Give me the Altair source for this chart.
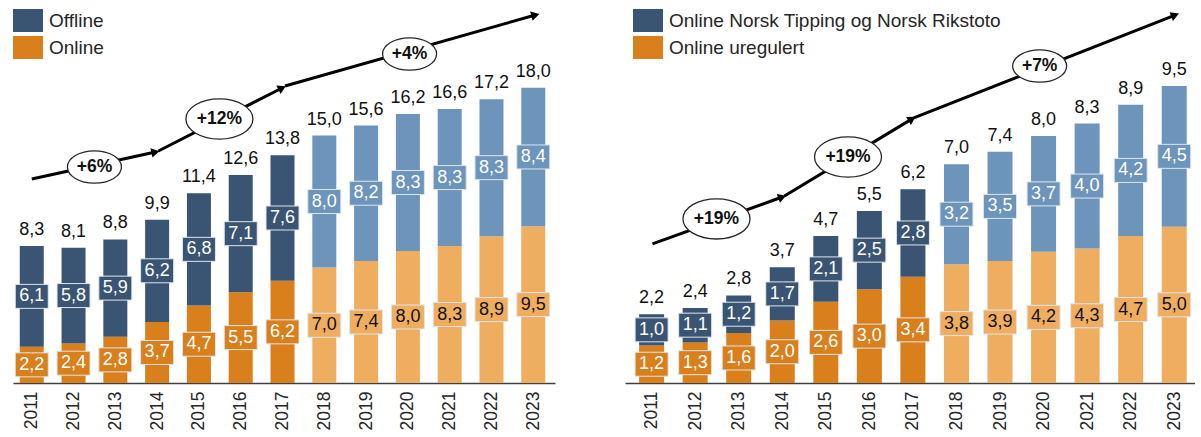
import math
import altair as alt
import pandas as pd

FONT = "Liberation Sans"
DARK_BLUE = "#3A5574"
ORANGE = "#D97F1B"
LIGHT_BLUE = "#6D94BB"
LIGHT_ORANGE = "#EFAD60"

years = list(range(2011, 2024))
forecast_from = 2018

# ---- left panel data ----
left_series = ["Offline", "Online"]
left_offline = [6.1, 5.8, 5.9, 6.2, 6.8, 7.1, 7.6, 8.0, 8.2, 8.3, 8.3, 8.3, 8.4]
left_online = [2.2, 2.4, 2.8, 3.7, 4.7, 5.5, 6.2, 7.0, 7.4, 8.0, 8.3, 8.9, 9.5]
left_totals = [8.3, 8.1, 8.8, 9.9, 11.4, 12.6, 13.8, 15.0, 15.6, 16.2, 16.6, 17.2, 18.0]
left_growth = ["+6%", "+12%", "+4%"]
left_arrow_from_year = [2011.0, 2014.03, 2017.06]
left_arrow_from_val = [12.36, 14.06, 18.0]
left_arrow_to_year = [2013.96, 2016.99, 2023.05]
left_arrow_to_val = [14.0, 17.88, 22.3]
left_growth_year = [2012.5, 2015.49, 2020.04]
left_growth_val = [13.09, 16.0, 19.94]

# ---- right panel data ----
right_series = ["Online Norsk Tipping og Norsk Rikstoto", "Online uregulert"]
right_nt = [1.0, 1.1, 1.2, 1.7, 2.1, 2.5, 2.8, 3.2, 3.5, 3.7, 4.0, 4.2, 4.5]
right_ureg = [1.2, 1.3, 1.6, 2.0, 2.6, 3.0, 3.4, 3.8, 3.9, 4.2, 4.3, 4.7, 5.0]
right_totals = [2.2, 2.4, 2.8, 3.7, 4.7, 5.5, 6.2, 7.0, 7.4, 8.0, 8.3, 8.9, 9.5]
right_growth = ["+19%", "+19%", "+7%"]
right_arrow_from_year = [2011.02, 2014.05, 2017.02]
right_arrow_from_val = [4.45, 5.98, 8.48]
right_arrow_to_year = [2014.0, 2016.98, 2023.02]
right_arrow_to_val = [5.95, 8.45, 11.77]
right_growth_year = [2012.49, 2015.51, 2019.91]
right_growth_val = [5.25, 7.23, 10.14]

BOX = "M-1,-0.727H1V0.727H-1Z"
ELLIPSE = "M-1,0A1,0.6,0,1,1,1,0A1,0.6,0,1,1,-1,0Z"
SWATCH = "M-1,-0.767H1V0.767H-1Z"
HEIGHT = 383


def fmt(v):
    return f"{v:.1f}".replace(".", ",")


def panel(series, top_vals, bottom_vals, totals, growth, afy, afv, aty, atv, gy, gv,
          width, xdom, ymax, bar_size, legend_x):
    rows = []
    for i, yr in enumerate(years):
        fc = yr >= forecast_from
        for order, (name, v) in enumerate([(series[1], bottom_vals[i]), (series[0], top_vals[i])]):
            rows.append(dict(year=yr, series=name,
                             key=name + (" (prognose)" if fc else ""),
                             value=v, order=order, label=fmt(v),
                             dark=bool(fc and order == 0)))
    df = pd.DataFrame(rows)
    tot = pd.DataFrame(dict(year=years, label=[fmt(t) for t in totals],
                            top=[a + b for a, b in zip(top_vals, bottom_vals)]))

    ppy = width / (xdom[1] - xdom[0])
    ppv = HEIGHT / ymax
    arr_rows, head_rows = [], []
    for k in range(len(afy)):
        arr_rows.append(dict(seg=k, year=afy[k], val=afv[k]))
        arr_rows.append(dict(seg=k, year=aty[k], val=atv[k]))
        dx = (aty[k] - afy[k]) * ppy
        dy = (atv[k] - afv[k]) * ppv
        ang = (-math.degrees(math.atan2(dy, dx))) % 360
        head_rows.append(dict(year=aty[k], val=atv[k], angle=ang))
    arr = pd.DataFrame(arr_rows)
    heads = pd.DataFrame(head_rows)
    gdf = pd.DataFrame(dict(year=gy, val=gv, label=growth))

    xenc = alt.X("year:Q", title=None,
                 scale=alt.Scale(domain=xdom, nice=False, zero=False),
                 axis=alt.Axis(values=years, format="d", labelAngle=-90, ticks=False,
                               grid=False, labelFont=FONT, labelFontSize=17.5,
                               labelColor="#262626", labelPadding=8, labelFlush=False,
                               labelOverlap=False, domainColor="#404040", domainWidth=1.6))
    yscale = alt.Scale(domain=[0, ymax], nice=False, zero=True)

    def Y(field):
        return alt.Y(field, scale=yscale, axis=None, title=None)

    cdomain = [series[0], series[1], series[0] + " (prognose)", series[1] + " (prognose)"]
    color = alt.Color("key:N",
                      scale=alt.Scale(domain=cdomain,
                                      range=[DARK_BLUE, ORANGE, LIGHT_BLUE, LIGHT_ORANGE]),
                      legend=alt.Legend(orient="none", legendX=legend_x, legendY=5.5,
                                        values=series, title=None, symbolType=SWATCH,
                                        symbolSize=900, symbolStrokeWidth=0,
                                        symbolOpacity=1, labelFont=FONT,
                                        labelFontSize=19, labelColor="#262626",
                                        labelOffset=6, rowPadding=0, padding=0,
                                        labelLimit=600))

    base = alt.Chart(df).transform_stack(
        stack="value", as_=["y0", "y1"], groupby=["year"],
        sort=[alt.SortField("order", "ascending")]
    ).transform_calculate(mid="(datum.y0 + datum.y1) / 2")

    bars = base.mark_bar(size=bar_size).encode(x=xenc, y=Y("y0:Q"), y2="y1:Q", color=color)
    boxes = base.mark_point(shape=BOX, size=1089, filled=True, opacity=1,
                            stroke="#dfe5ec", strokeWidth=1).encode(
        x=xenc, y=Y("mid:Q"), color=color)
    tw = base.transform_filter("!datum.dark").mark_text(
        font=FONT, fontSize=18, color="white", baseline="middle").encode(
        x=xenc, y=Y("mid:Q"), text="label:N")
    tb = base.transform_filter("datum.dark").mark_text(
        font=FONT, fontSize=18, color="#111111", baseline="middle").encode(
        x=xenc, y=Y("mid:Q"), text="label:N")
    totals_t = alt.Chart(tot).mark_text(font=FONT, fontSize=18, color="#111111",
                                        baseline="middle", dy=-16).encode(
        x=xenc, y=Y("top:Q"), text="label:N")
    lines = alt.Chart(arr).mark_line(color="black", strokeWidth=3).encode(
        x=xenc, y=Y("val:Q"), detail="seg:N")
    hd = alt.Chart(heads).mark_point(shape="triangle-right", filled=True, color="black",
                                     opacity=1, size=90).encode(
        x=xenc, y=Y("val:Q"), angle=alt.Angle("angle:Q", scale=None))
    ell = alt.Chart(gdf).transform_calculate(
        esize="pow(13 * length(datum.label) + 15, 2)"
    ).mark_point(shape=ELLIPSE, filled=True, fill="white", stroke="#262626",
                 strokeWidth=1.3, opacity=1).encode(
        x=xenc, y=Y("val:Q"), size=alt.Size("esize:Q", scale=None))
    et = alt.Chart(gdf).mark_text(font=FONT, fontSize=17.5, fontWeight="bold",
                                  color="#111111", baseline="middle").encode(
        x=xenc, y=Y("val:Q"), text="label:N")

    return alt.layer(bars, boxes, tw, tb, totals_t, lines, hd, ell, et).properties(
        width=width, height=HEIGHT)


left = panel(left_series, left_offline, left_online, left_totals, left_growth,
             left_arrow_from_year, left_arrow_from_val, left_arrow_to_year, left_arrow_to_val,
             left_growth_year, left_growth_val,
             width=542, xdom=[2010.671, 2023.400], ymax=HEIGHT / 16.5, bar_size=24, legend_x=0)
right = panel(right_series, right_nt, right_ureg, right_totals, right_growth,
              right_arrow_from_year, right_arrow_from_val, right_arrow_to_year, right_arrow_to_val,
              right_growth_year, right_growth_val,
              width=570, xdom=[2010.504, 2023.362], ymax=HEIGHT / 31.26, bar_size=25, legend_x=8)

chart = alt.hconcat(left, right, spacing=70).resolve_scale(
    x="independent", y="independent", color="independent"
).resolve_legend(color="independent").configure_view(stroke=None).properties(
    padding={"left": 13, "top": 0, "right": 0, "bottom": 0}, background="white")

chart.save("out.html", embed_options={"renderer": "svg", "actions": False})
